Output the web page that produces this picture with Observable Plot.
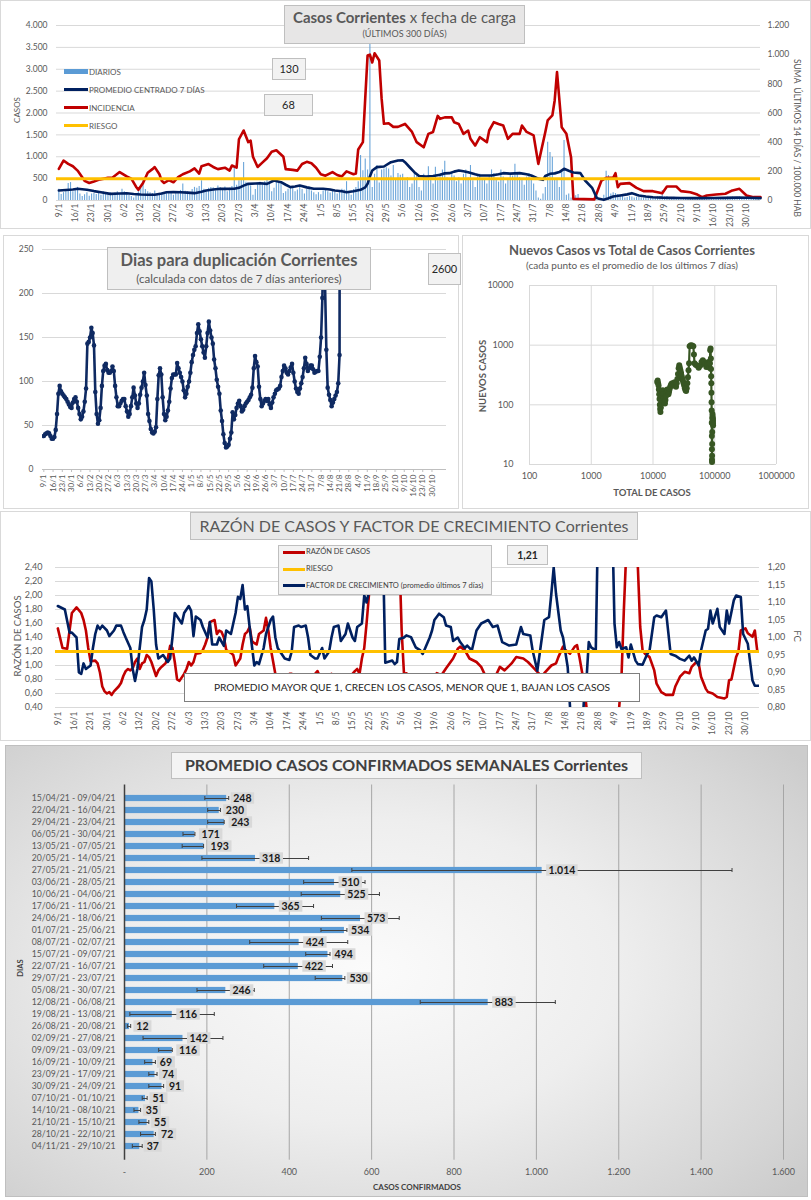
<!DOCTYPE html>
<html><head><meta charset="utf-8">
<script src="https://cdn.jsdelivr.net/npm/d3@7"></script>
<script src="https://cdn.jsdelivr.net/npm/@observablehq/plot@0.6"></script>
<style>
body{margin:0;background:#fff;font-family:Lato,"Open Sans",sans-serif;}
#root{position:relative;width:811px;height:1200px;overflow:hidden;}
.box{position:absolute;box-sizing:border-box;display:flex;flex-direction:column;align-items:center;justify-content:center;border:1px solid #bfbfbf;color:#595959;line-height:1.15;white-space:nowrap;}
.t{position:absolute;white-space:nowrap;color:#595959;}
</style></head><body><div id="root"></div>
<script>
// ---------- DATA ----------
const ETIQUETAS_FECHA = ["9/1","16/1","23/1","30/1","6/2","13/2","20/2","27/2","6/3","13/3","20/3","27/3","3/4","10/4","17/4","24/4","1/5","8/5","15/5","22/5","29/5","5/6","12/6","19/6","26/6","3/7","10/7","17/7","24/7","31/7","7/8","14/8","21/8","28/8","4/9","11/9","18/9","25/9","2/10","9/10","16/10","23/10","30/10"];

// casos diarios desde 9/1/2021 (300 días)
const diarios = [
260,140,180,220,390,410,200, 250,300,150,90,130,180,100, 150,160,140,180,120,200,160,
130,180,150,170,200,150,260, 200,150,120,90,60,110,200, 280,450,250,200,180,160,220,
150,120,180,140,160,200,170, 120,160,180,230,380,210,200, 170,250,300,280,320,450,260,
200,280,300,290,220,330,300, 250,310,200,280,320,760,350, 450,480,870,420,380,330,120,
250,360,420,400,430,480,380, 200,280,420,400,380,160,200, 260,300,280,200,240,340,250,
150,260,310,220,180,130,180, 130,220,260,200,170,230,190, 150,180,260,240,430,200,120,
250,300,430,1030,680,950,700, 3600,300,600,800,400,700,720, 750,720,560,800,500,620,580,
600,450,520,300,380,640,560, 300,220,600,450,770,500,380, 760,450,620,700,900,520,480,
640,560,430,520,380,600,700, 520,800,450,300,540,600,500, 480,380,560,700,620,500,420,
700,540,380,480,620,560,830, 600,520,480,350,540,620,500, 380,220,60,30,150,300,1330,
1100,990,460,500,300,700,1370, 120,150,60,80,110,140,40, 10,15,5,20,8,10,20,
30,40,120,670,570,150,180, 160,140,120,110,60,70,90, 80,60,75,70,65,60,90,
80,70,75,65,85,90,230, 80,90,60,70,75,55,50, 45,60,50,55,45,30,35,
30,40,35,30,45,40,55, 50,60,55,45,70,65,80, 75,80,70,65,80,60,40, 35,40,30,45,35,40];

// [día desde 9/1, promedio centrado 7 días]
const promedio7 = [[0,229],[3,240],[6,250],[8,267],[12,244],[15,215],[18,190],[22,152],[26,160],[29,167],[32,150],[35,137],[38,132],[41,130],[44,160],[46,190],[49,195],[52,190],[55,180],[58,168],[61,200],[63,229],[66,250],[69,267],[72,265],[75,267],[77,290],[79,340],[81,381],[84,390],[86,396],[89,381],[92,457],[95,419],[97,360],[99,305],[101,320],[103,343],[106,300],[109,267],[113,267],[116,250],[118,229],[121,210],[123,190],[126,213],[129,244],[131,300],[132,381],[133,550],[134,686],[136,762],[139,777],[142,876],[145,914],[147,920],[148,876],[150,760],[152,648],[154,560],[157,549],[160,560],[163,590],[165,620],[167,625],[169,660],[171,686],[173,670],[175,648],[178,600],[180,571],[183,571],[185,571],[188,600],[190,625],[193,615],[195,620],[197,625],[200,600],[202,571],[205,500],[207,472],[208,560],[210,610],[212,620],[214,650],[216,724],[218,680],[220,640],[223,625],[225,457],[228,290],[230,60],[231,38],[233,15],[235,50],[237,90],[240,114],[243,140],[245,168],[247,130],[248,114],[251,90],[254,75],[258,65],[262,60],[266,58],[270,55],[275,55],[280,58],[285,60],[290,65],[295,62],[300,55]];

// [día, incidencia 14 días / 100.000 hab]
const incidencia = [[0,217],[2,274],[4,251],[6,235],[8,205],[10,160],[11,135],[13,120],[15,130],[17,142],[21,155],[23,158],[26,195],[29,165],[31,150],[33,95],[34,73],[36,120],[38,190],[40,215],[41,229],[43,180],[44,135],[45,120],[47,140],[49,125],[51,160],[53,180],[56,200],[58,220],[60,185],[61,235],[64,250],[66,230],[68,215],[71,225],[73,205],[74,240],[76,225],[77,420],[79,480],[81,400],[82,410],[83,300],[85,230],[87,260],[89,290],[91,335],[93,345],[96,300],[97,215],[100,210],[102,205],[104,250],[106,265],[108,255],[110,225],[112,180],[114,170],[117,195],[119,175],[121,165],[123,200],[126,180],[127,185],[128,350],[130,400],[131,700],[132,994],[133,1000],[134,946],[135,1010],[137,960],[138,700],[139,526],[141,530],[143,505],[145,505],[148,525],[151,470],[153,400],[156,365],[158,457],[160,470],[162,580],[163,560],[165,570],[168,570],[169,537],[171,525],[173,457],[175,480],[176,423],[178,377],[180,434],[183,400],[184,480],[186,537],[188,525],[190,514],[192,423],[194,457],[197,457],[198,514],[200,470],[203,446],[205,251],[208,470],[209,549],[211,583],[212,686],[213,880],[215,503],[217,457],[219,297],[220,11],[229,8],[232,137],[234,155],[237,155],[238,187],[239,91],[240,114],[244,119],[247,87],[250,64],[254,64],[258,50],[260,96],[264,96],[266,64],[270,57],[273,41],[275,23],[277,34],[281,41],[285,46],[288,69],[291,80],[294,34],[297,23],[300,23]];
const RIESGO_INCIDENCIA = 150;
const CASOS_TICKS = [0,500,1000,1500,2000,2500,3000,3500,4000];
const INCID_TICKS = [0,200,400,600,800,1000,1200];

// días para duplicación [día, valor]
const duplicacion = [[0,38],[1,40],[2,41],[3,42],[4,41],[5,38],[6,35],[7,35],[8,37],[9,45],[10,63],[11,86],[12,95],[13,89],[14,86],[15,84],[16,82],[17,80],[18,77],[19,74],[20,71],[21,70],[22,76],[23,80],[24,82],[25,77],[26,70],[27,63],[28,57],[29,60],[30,66],[31,77],[32,92],[33,143],[34,145],[35,150],[36,161],[37,155],[38,141],[39,88],[40,63],[41,52],[42,56],[43,70],[44,95],[45,112],[46,118],[47,120],[48,113],[49,110],[50,110],[51,112],[52,117],[53,112],[54,95],[55,82],[56,72],[57,72],[58,75],[59,78],[60,80],[61,80],[62,72],[63,66],[64,60],[65,63],[66,72],[67,82],[68,93],[69,84],[70,75],[71,70],[72,75],[73,85],[74,93],[75,100],[76,110],[77,96],[78,84],[79,63],[80,55],[81,46],[82,42],[83,41],[84,43],[85,48],[86,80],[87,107],[88,115],[89,108],[90,82],[91,63],[92,56],[93,60],[94,67],[95,77],[96,92],[97,104],[98,108],[99,108],[100,108],[101,121],[102,115],[103,110],[104,105],[105,100],[106,90],[107,82],[108,86],[109,94],[110,100],[111,110],[112,122],[113,130],[114,136],[115,140],[116,155],[117,165],[118,157],[119,148],[120,140],[121,133],[122,127],[123,140],[124,155],[125,168],[126,158],[127,150],[128,143],[129,125],[130,115],[131,102],[132,94],[133,86],[134,67],[135,55],[136,40],[137,30],[138,25],[139,26],[140,28],[141,35],[142,42],[143,65],[144,57],[145,62],[146,70],[147,75],[148,78],[149,72],[150,66],[151,68],[152,72],[153,75],[154,77],[155,79],[156,82],[157,85],[158,93],[159,115],[160,129],[161,122],[162,117],[163,94],[164,80],[165,72],[166,75],[167,78],[168,80],[169,78],[170,80],[171,74],[172,70],[173,76],[174,82],[175,86],[176,90],[177,91],[178,92],[179,95],[180,105],[181,112],[182,118],[183,115],[184,110],[185,108],[186,112],[187,116],[188,120],[189,110],[190,100],[191,92],[192,88],[193,86],[194,92],[195,98],[196,105],[197,115],[198,127],[199,120],[200,112],[201,115],[202,118],[203,118],[204,114],[205,110],[206,111],[207,112],[208,112],[209,128],[210,150],[211,195],[212,300],[213,210],[214,136],[215,93],[216,85],[217,79],[218,72],[219,76],[220,80],[221,84],[222,88],[223,98],[224,130],[225,2600]];
const DUP_TICKS = [0,50,100,150,200,250];

// [total de casos, nuevos casos (prom. 7 días)]
const nuevosVsTotal = [[11700,242],[11900,255],[12100,230],[12300,210],[12450,180],[12600,150],[12750,125],[12900,100],[13050,85],[13200,76],[13400,90],[13600,120],[13800,140],[14100,160],[14400,175],[14700,150],[15000,130],[15300,110],[15600,105],[15900,120],[16200,140],[16600,165],[17000,180],[17400,170],[17800,150],[18200,165],[18600,185],[19000,200],[19500,215],[20000,225],[20600,230],[21200,210],[21800,225],[22400,240],[23000,220],[23600,200],[24200,230],[24800,270],[25400,330],[26000,410],[26600,460],[27200,420],[27800,380],[28500,340],[29200,300],[29900,270],[30600,250],[31300,230],[32000,210],[32800,190],[33600,175],[34400,170],[35200,190],[36000,230],[36800,290],[37600,380],[38400,500],[39200,960],[41000,1000],[43000,990],[45000,960],[46000,700],[47000,500],[49000,470],[52000,450],[55000,420],[58000,450],[61000,520],[64000,560],[67000,520],[70000,480],[73000,430],[76000,470],[79000,520],[81000,480],[82500,420],[83500,500],[84500,820],[85500,880],[86500,600],[87000,400],[87500,300],[88000,230],[88400,160],[88800,110],[89200,80],[89500,50],[89800,30],[90000,18],[90200,12],[90300,11],[90500,14],[90800,22],[91000,35],[91300,50],[91600,60],[91900,70],[92200,65],[92500,60],[92800,58],[93100,55],[93400,52],[93700,48],[94000,45]];
const LOG_X_TICKS = [100,1000,10000,100000,1000000];
const LOG_Y_TICKS = [10,100,1000,10000];

// razón de casos [día, valor] y factor de crecimiento [día, valor]
const razon = [[0,1.53],[2,1.25],[4,1.24],[6,1.75],[8,1.83],[10,1.75],[11,1.65],[12,1.50],[13,1.25],[14,1.06],[16,1.07],[17,1.03],[18,0.90],[19,0.70],[20,0.63],[21,0.60],[22,0.62],[23,0.58],[24,0.63],[26,0.70],[27,0.75],[28,0.85],[29,0.92],[30,0.95],[31,0.93],[32,0.96],[33,1.05],[34,1.10],[35,0.95],[36,1.03],[37,1.05],[38,1.15],[39,1.12],[40,1.05],[41,0.95],[42,0.85],[43,0.93],[44,0.97],[45,1.00],[46,1.03],[47,1.10],[48,1.28],[49,1.25],[50,1.05],[51,0.80],[52,0.78],[54,0.88],[55,0.95],[56,1.05],[57,1.00],[58,1.05],[59,1.17],[61,1.18],[62,1.22],[63,1.30],[64,1.40],[65,1.62],[67,1.65],[68,1.45],[69,1.50],[70,1.48],[71,1.40],[72,1.22],[74,1.18],[75,1.15],[76,1.00],[78,1.10],[79,1.30],[80,1.45],[81,1.48],[82,1.55],[83,1.35],[84,1.32],[85,1.30],[86,1.45],[88,1.50],[89,1.68],[90,1.50],[91,1.25],[93,0.88],[95,0.85],[96,0.78],[97,0.82],[99,0.88],[100,0.88],[101,0.78],[102,0.72],[103,0.65],[104,0.65],[106,0.70],[107,0.75],[108,0.80],[110,0.88],[111,0.92],[112,0.85],[113,0.80],[115,0.78],[116,0.82],[117,0.88],[118,0.82],[120,0.78],[121,0.77],[123,0.80],[124,0.72],[125,0.85],[126,0.88],[127,0.92],[128,0.95],[129,0.88],[130,1.10],[131,1.25],[132,1.60],[133,2.00],[134,2.70],[136,3.50],[140,3.50],[144,3.00],[146,2.60],[147,1.50],[148,0.88],[149,0.89],[151,0.84],[154,0.77],[157,0.74],[160,0.79],[162,0.89],[164,0.86],[166,0.96],[169,1.10],[171,1.24],[172,1.27],[174,1.22],[176,1.10],[179,1.05],[181,0.98],[183,0.84],[185,0.81],[187,0.84],[189,0.98],[191,0.93],[194,1.03],[196,1.12],[199,1.10],[201,1.05],[203,0.98],[205,0.91],[207,0.84],[208,0.89],[211,1.00],[213,1.03],[214,1.12],[216,1.27],[217,1.22],[219,1.17],[221,1.27],[222,1.29],[223,1.12],[225,0.74],[226,0.41],[228,0.2],[238,0.2],[240,0.40],[241,0.84],[242,1.79],[243,2.6],[245,3.5],[247,3.0],[248,2.4],[249,1.55],[250,1.22],[251,1.17],[253,1.12],[255,0.93],[256,0.74],[258,0.62],[260,0.58],[263,0.58],[264,0.70],[266,0.84],[268,0.91],[270,0.89],[271,0.98],[273,1.05],[274,1.03],[275,0.84],[277,0.67],[278,0.62],[280,0.60],[282,0.55],[285,0.53],[286,0.55],[287,0.79],[288,0.80],[290,1.12],[291,1.20],[292,1.50],[294,1.53],[295,1.46],[297,1.41],[298,1.50],[299,1.22]];
const factorCrec = [[0,1.09],[3,1.08],[5,1.014],[6,1.014],[8,1.00],[9,0.90],[10,0.896],[11,0.926],[12,0.91],[14,0.92],[15,0.97],[16,1.01],[17,1.034],[18,1.024],[19,1.034],[21,1.02],[22,1.004],[24,1.02],[25,1.034],[27,1.034],[28,1.016],[29,1.00],[31,0.97],[32,0.91],[33,0.876],[34,0.91],[35,0.97],[36,1.03],[37,1.05],[38,1.08],[39,1.17],[40,1.16],[41,1.08],[42,0.98],[43,0.94],[45,0.95],[46,0.94],[47,0.93],[48,0.94],[49,1.00],[50,1.07],[52,1.05],[53,1.04],[54,1.07],[56,1.09],[57,1.076],[58,1.004],[59,1.06],[61,1.05],[62,1.03],[64,1.00],[65,1.044],[66,0.98],[68,0.98],[69,1.00],[71,0.976],[72,1.02],[74,1.01],[75,1.04],[76,1.07],[77,1.116],[78,1.11],[79,1.15],[80,1.08],[81,1.09],[82,1.03],[84,0.92],[85,0.93],[86,0.924],[88,0.97],[89,1.01],[91,1.05],[92,1.06],[93,1.00],[94,0.97],[96,0.95],[97,0.94],[99,0.936],[100,0.96],[101,1.03],[103,1.034],[104,1.03],[106,1.034],[107,1.00],[108,0.95],[110,0.94],[111,0.94],[113,0.97],[114,0.94],[116,0.96],[117,1.00],[118,1.03],[120,1.034],[121,0.99],[123,1.01],[124,1.04],[126,1.00],[127,0.99],[128,1.03],[130,1.04],[131,1.12],[132,1.10],[133,1.13],[135,1.25],[139,1.25],[140,0.928],[141,0.93],[143,0.934],[144,0.924],[145,0.93],[146,0.996],[148,1.00],[149,1.006],[151,1.001],[153,0.972],[155,0.963],[156,0.953],[159,1.00],[160,1.02],[161,1.05],[163,1.068],[165,1.058],[166,1.034],[168,1.03],[169,0.99],[171,1.0],[172,0.987],[174,0.97],[175,0.977],[177,0.963],[179,1.02],[181,1.04],[184,1.05],[186,1.03],[188,1.034],[190,0.987],[193,0.977],[196,0.98],[198,1.03],[199,1.01],[202,1.006],[203,0.963],[205,0.905],[206,0.953],[208,1.05],[210,1.058],[211,1.125],[212,1.20],[213,1.125],[215,1.02],[216,1.0],[218,0.915],[219,0.80],[220,0.70],[224,0.70],[225,0.83],[226,0.876],[227,0.987],[228,0.972],[230,0.963],[231,1.35],[237,1.35],[238,1.04],[239,0.972],[240,0.987],[241,0.967],[243,0.972],[244,0.943],[245,0.98],[247,0.934],[248,0.924],[250,0.922],[252,0.953],[253,0.963],[255,1.058],[256,1.063],[258,1.058],[260,1.077],[262,0.953],[264,0.948],[266,0.939],[268,0.934],[270,0.948],[271,0.934],[272,0.943],[274,0.92],[275,0.963],[277,1.02],[278,1.025],[279,1.077],[280,1.04],[282,1.082],[283,1.03],[285,1.01],[286,1.077],[287,1.04],[289,1.106],[290,1.12],[292,1.116],[293,1.01],[295,0.982],[297,0.877],[298,0.862],[300,0.862]];
const RIESGO_RAZON = 1.2;
const RAZON_TICKS = [0.4,0.6,0.8,1.0,1.2,1.4,1.6,1.8,2.0,2.2,2.4];
const FC_TICKS = [0.80,0.85,0.90,0.95,1.00,1.05,1.10,1.15,1.20];

// promedio semanal
const semanas = ["15/04/21 - 09/04/21","22/04/21 - 16/04/21","29/04/21 - 23/04/21","06/05/21 - 30/04/21","13/05/21 - 07/05/21","20/05/21 - 14/05/21","27/05/21 - 21/05/21","03/06/21 - 28/05/21","10/06/21 - 04/06/21","17/06/21 - 11/06/21","24/06/21 - 18/06/21","01/07/21 - 25/06/21","08/07/21 - 02/07/21","15/07/21 - 09/07/21","22/07/21 - 16/07/21","29/07/21 - 23/07/21","05/08/21 - 30/07/21","12/08/21 - 06/08/21","19/08/21 - 13/08/21","26/08/21 - 20/08/21","02/09/21 - 27/08/21","09/09/21 - 03/09/21","16/09/21 - 10/09/21","23/09/21 - 17/09/21","30/09/21 - 24/09/21","07/10/21 - 01/10/21","14/10/21 - 08/10/21","21/10/21 - 15/10/21","28/10/21 - 22/10/21","04/11/21 - 29/10/21"];
const promedioSemanal = [248,230,243,171,193,318,1014,510,525,365,573,534,424,494,422,530,246,883,116,12,142,116,69,74,91,51,35,55,72,37];
const errorInf = [195,202,202,142,140,188,552,435,429,272,478,477,304,440,338,463,176,718,13,7,45,83,49,59,59,43,23,35,39,19];
const errorSup = [253,233,242,171,192,447,1475,584,619,459,667,540,542,499,505,535,315,1046,218,15,239,116,75,79,95,55,39,59,75,43];
const SEMANAL_TICKS = [0,200,400,600,800,1000,1200,1400,1600];

// ---------- HELPERS ----------
const T0 = Date.UTC(2021,0,9);
const diaDe = s => { const [d,m] = s.split("/").map(Number); return Math.round((Date.UTC(2021,m-1,d)-T0)/864e5); };
const tickDias = ETIQUETAS_FECHA.map(diaDe);
const tickLabel = new Map(tickDias.map((d,i)=>[d, ETIQUETAS_FECHA[i]]));
const loc = d3.formatLocale({decimal: ",", thousands: ".", grouping: [3], currency: ["$",""]});
const fmtMiles = loc.format(",");
const fmt2 = loc.format(",.2f");
const root = document.getElementById("root");
const FONT = "Lato, 'Open Sans', sans-serif";
const STYLE = {fontFamily: FONT, fontSize: "8.5px", color: "#595959", background: "transparent", overflow: "visible"};

function el(css, html, cls) {
  const e = document.createElement("div");
  if (cls) e.className = cls;
  e.style.cssText = css;
  if (html != null) e.innerHTML = html;
  root.appendChild(e);
  return e;
}
function put(svg, left, top) {
  const w = el(`position:absolute;left:${left}px;top:${top}px;`);
  w.appendChild(svg);
  return w;
}
function vtext(txt, cx, cy, deg, css) {
  el(`position:absolute;left:${cx}px;top:${cy}px;transform:translate(-50%,-50%) rotate(${deg}deg);white-space:nowrap;color:#595959;${css||""}`, txt);
}
function frame(l,t,w,h,bg){ el(`position:absolute;left:${l}px;top:${t}px;width:${w}px;height:${h}px;box-sizing:border-box;border:1px solid #d9d9d9;background:${bg||"#fff"};`); }

// ---------- FRAMES ----------
frame(0,0,811,229);
frame(3,235,456,274);
frame(462,235,347,274);
frame(0,511,811,230);
el(`position:absolute;left:5px;top:745px;width:803px;height:452px;box-sizing:border-box;border:1px solid #bfbfbf;background:radial-gradient(ellipse 70% 75% at 45% 50%, #fbfbfb 0%, #eeeeee 45%, #d6d6d6 85%, #cccccc 100%);`);

// ---------- PANEL 1 ----------
const k1 = 4000/1200;
put(Plot.plot({
  width: 811, height: 228, marginLeft: 56, marginRight: 51, marginTop: 25, marginBottom: 28,
  style: STYLE,
  x: {domain: [-1, 300]},
  y: {domain: [0, 4000]},
  marks: [
    Plot.ruleY(CASOS_TICKS, {stroke: "#d9d9d9"}),
    Plot.ruleX(diarios, {x: (d,i) => i, y1: 0, y2: d => d, stroke: "#5b9bd5", strokeWidth: 1.1, strokeOpacity: 0.9}),
    Plot.line(incidencia, {x: d => d[0], y: d => d[1]*k1, stroke: "#c00000", strokeWidth: 2.6}),
    Plot.line(promedio7, {x: d => d[0], y: d => d[1], stroke: "#002060", strokeWidth: 2.6}),
    Plot.ruleY([RIESGO_INCIDENCIA*k1], {stroke: "#ffc000", strokeWidth: 3}),
    Plot.axisY({ticks: CASOS_TICKS, tickFormat: fmtMiles, tickSize: 0, tickPadding: 9, label: null}),
    Plot.axisY({anchor: "right", ticks: INCID_TICKS.map(t => t*k1), tickFormat: t => fmtMiles(Math.round(t/k1)), tickSize: 0, tickPadding: 7, label: null}),
    Plot.axisX({ticks: tickDias, tickFormat: d => tickLabel.get(d), tickRotate: -90, tickSize: 0, tickPadding: 3, label: null})
  ]
}), 0, 0);
el("left:284px;top:5px;width:241px;height:39px;background:#e7e6e6;", `<div style="font-size:15px"><b>Casos Corrientes</b> x fecha de carga</div><div style="font-size:9px;margin-top:3px">(ÚLTIMOS 300 DÍAS)</div>`, "box");
el("left:272px;top:58px;width:34px;height:22px;background:#f2f2f2;color:#262626;font-size:11px;", "130", "box");
el("left:264px;top:94px;width:49px;height:22px;background:#f2f2f2;color:#262626;font-size:11px;", "68", "box");
const leg1 = [["DIARIOS","#5b9bd5",5,71.5],["PROMEDIO CENTRADO 7 DÍAS","#002060",3,89.5],["INCIDENCIA","#c00000",3,107.5],["RIESGO","#ffc000",3,125.5]];
leg1.forEach(([t,c,h,y]) => {
  el(`position:absolute;left:64px;top:${y-h/2}px;width:24px;height:${h}px;background:${c};`);
  el(`position:absolute;left:89px;top:${y-6}px;height:12px;line-height:12px;font-size:8px;`, t, "t");
});
vtext("CASOS", 17, 110, -90, "font-size:8px;");
vtext("SUMA&nbsp; ÚLTIMOS 14 DÍAS / 100.000 HAB", 797, 138, 90, "font-size:8.5px;");

// ---------- PANEL 2 ----------
put(Plot.plot({
  width: 460, height: 280, marginLeft: 42, marginRight: 14, marginTop: 19, marginBottom: 41,
  style: STYLE,
  x: {domain: [-1, 305]},
  y: {domain: [0, 250]},
  marks: [
    Plot.ruleY(DUP_TICKS.slice(1), {stroke: "#d9d9d9"}),
    Plot.ruleY([0], {stroke: "#bfbfbf"}),
    Plot.line(duplicacion, {x: d => d[0], y: d => d[1], stroke: "#0f2a62", strokeWidth: 2.6, clip: true}),
    Plot.dot(duplicacion, {x: d => d[0], y: d => d[1], r: 2.3, fill: "#0f2a62", clip: true}),
    Plot.axisY({ticks: DUP_TICKS, tickSize: 0, tickPadding: 9, label: null}),
    Plot.axisX({ticks: tickDias, tickFormat: d => tickLabel.get(d), tickRotate: -90, tickSize: 3, tickPadding: 2, stroke: "#bfbfbf", label: null, fontSize: 8})
  ]
}), 0, 230);
el("left:107px;top:247px;width:264px;height:43px;background:#efefef;", `<div style="font-size:16.5px;font-weight:bold">Dias para duplicación Corrientes</div><div style="font-size:11.5px;margin-top:2px">(calculada con datos de 7 días anteriores)</div>`, "box");
el("left:428px;top:253px;width:33px;height:32px;background:#f2f2f2;color:#262626;font-size:11px;", "2600", "box");

// ---------- PANEL 3 ----------
put(Plot.plot({
  width: 351, height: 280, marginLeft: 69, marginRight: 35, marginTop: 55, marginBottom: 46,
  style: STYLE,
  x: {type: "log", domain: [100, 1e6]},
  y: {type: "log", domain: [10, 1e4]},
  marks: [
    Plot.ruleX(LOG_X_TICKS, {stroke: "#d9d9d9"}),
    Plot.ruleY(LOG_Y_TICKS, {stroke: "#d9d9d9"}),
    Plot.line(nuevosVsTotal, {x: d => d[0], y: d => d[1], stroke: "#375623", strokeWidth: 2.2}),
    Plot.dot(nuevosVsTotal, {x: d => d[0], y: d => d[1], r: 3, fill: "#375623"}),
    Plot.axisX({ticks: LOG_X_TICKS, tickFormat: d3.format("d"), tickSize: 0, tickPadding: 8, label: null, fontSize: 9}),
    Plot.axisY({ticks: LOG_Y_TICKS, tickFormat: d3.format("d"), tickSize: 0, tickPadding: 16, label: null, fontSize: 9})
  ]
}), 460, 230);
el("position:absolute;left:462px;top:242px;width:340px;text-align:center;font-size:13px;font-weight:bold;color:#595959;", "Nuevos Casos vs Total de Casos Corrientes");
el("position:absolute;left:462px;top:259px;width:340px;text-align:center;font-size:10px;color:#595959;", "(cada punto es el promedio de los últimos 7 días)");
vtext("NUEVOS CASOS", 482, 376, -90, "font-size:9.5px;font-weight:bold;");
el("position:absolute;left:552px;top:487px;width:200px;text-align:center;font-size:9.5px;font-weight:bold;color:#595959;", "TOTAL DE CASOS");

// ---------- PANEL 4 ----------
const toL = r => 0.4 + (r - 0.8) * 5;
put(Plot.plot({
  width: 811, height: 230, marginLeft: 55, marginRight: 52, marginTop: 57, marginBottom: 33,
  style: STYLE,
  x: {domain: [-1, 300]},
  y: {domain: [0.4, 2.4]},
  marks: [
    Plot.ruleY(RAZON_TICKS, {stroke: "#d9d9d9"}),
    Plot.line(razon, {x: d => d[0], y: d => d[1], stroke: "#c00000", strokeWidth: 2.6, clip: true}),
    Plot.line(factorCrec, {x: d => d[0], y: d => toL(d[1]), stroke: "#002060", strokeWidth: 2.6, clip: true}),
    Plot.ruleY([RIESGO_RAZON], {stroke: "#ffc000", strokeWidth: 3}),
    Plot.axisY({ticks: RAZON_TICKS, tickFormat: fmt2, tickSize: 0, tickPadding: 13, label: null, fontSize: 9}),
    Plot.axisY({anchor: "right", ticks: FC_TICKS.map(toL), tickFormat: t => fmt2(0.8 + (t - 0.4)/5), tickSize: 0, tickPadding: 8, label: null, fontSize: 9}),
    Plot.axisX({ticks: tickDias, tickFormat: d => tickLabel.get(d), tickRotate: -90, tickSize: 0, tickPadding: 4, label: null})
  ]
}), 0, 510);
el("left:190px;top:512px;width:448px;height:28px;background:#e9e9e9;font-size:16px;", "RAZÓN DE CASOS Y FACTOR DE CRECIMIENTO Corrientes", "box");
el("left:278px;top:545px;width:214px;height:50px;background:#f2f2f2;", "", "box");
[["RAZÓN DE CASOS","#c00000",552],["RIESGO","#ffc000",569],["FACTOR DE CRECIMIENTO (promedio últimos 7 días)","#002060",585.5]].forEach(([t,c,y]) => {
  el(`position:absolute;left:283px;top:${y-1.5}px;width:22px;height:3px;background:${c};`);
  el(`position:absolute;left:306px;top:${y-5}px;height:10px;line-height:10px;font-size:7.5px;color:#404040;`, t, "t");
});
el("left:507px;top:545px;width:41px;height:20px;background:#f2f2f2;color:#262626;font-size:10.5px;font-weight:bold;", "1,21", "box");
el("left:184px;top:673px;width:456px;height:29px;background:#fff;border-color:#7f7f7f;color:#262626;font-size:10.2px;", "PROMEDIO MAYOR QUE 1, CRECEN LOS CASOS, MENOR QUE 1, BAJAN LOS CASOS", "box");
vtext("RAZÓN DE CASOS", 17, 636, -90, "font-size:9.5px;");
vtext("FC", 797, 636, 90, "font-size:9.5px;");

// ---------- PANEL 5 ----------
const filas = semanas.map((s,i) => ({s, v: promedioSemanal[i], lo: errorInf[i], hi: errorSup[i], t: fmtMiles(promedioSemanal[i])}));
const anchoEtiqueta = {2: 18, 3: 23.5, 5: 31.5};
const etiquetas = [2,3,5].flatMap(n => {
  const w = anchoEtiqueta[n];
  const f = d => d.t.length === n;
  return [
    Plot.tickX(filas, {filter: f, x: "v", y: "s", dx: 4 + w/2, stroke: "#d9d9d9", strokeWidth: w, insetTop: 0.3, insetBottom: 0.3}),
    Plot.text(filas, {filter: f, x: "v", y: "s", text: "t", dx: 4 + w/2, textAnchor: "middle", fontWeight: "bold", fontSize: 10.5, fill: "#1a1a1a"})
  ];
});
put(Plot.plot({
  width: 811, height: 455, marginLeft: 124, marginRight: 28, marginTop: 39.5, marginBottom: 40.3,
  style: STYLE,
  x: {domain: [0, 1600]},
  y: {type: "band", domain: semanas, padding: 0},
  marks: [
    Plot.ruleX(SEMANAL_TICKS.slice(1), {stroke: "#a6a6a6"}),
    Plot.barX(filas, {x: "v", y: "s", fill: "#5b9bd5", insetTop: 2.9, insetBottom: 2.9}),
    Plot.link(filas, {x1: "lo", x2: "hi", y1: "s", y2: "s", stroke: "#404040", strokeWidth: 1}),
    Plot.tickX(filas, {x: "lo", y: "s", stroke: "#404040", insetTop: 4, insetBottom: 4}),
    Plot.tickX(filas, {x: "hi", y: "s", stroke: "#404040", insetTop: 4, insetBottom: 4}),
    ...etiquetas,
    Plot.ruleX([0], {stroke: "#404040", strokeWidth: 1.5}),
    Plot.axisY({tickSize: 0, tickPadding: 9, label: null, fontSize: 8.7}),
    Plot.axisX({ticks: SEMANAL_TICKS, tickFormat: d => d === 0 ? "-" : fmtMiles(d), tickSize: 0, tickPadding: 8, label: null, fontSize: 9})
  ]
}), 0, 745);
el("left:171px;top:752px;width:471px;height:27px;background:#f4f4f4;color:#404040;font-size:16px;font-weight:bold;", "PROMEDIO CASOS CONFIRMADOS SEMANALES Corrientes", "box");
vtext("DIAS", 20, 968, -90, "font-size:7.5px;font-weight:bold;color:#404040;");
el("position:absolute;left:317px;top:1182px;width:200px;text-align:center;font-size:8px;font-weight:bold;color:#404040;", "CASOS CONFIRMADOS");
</script></body></html>
